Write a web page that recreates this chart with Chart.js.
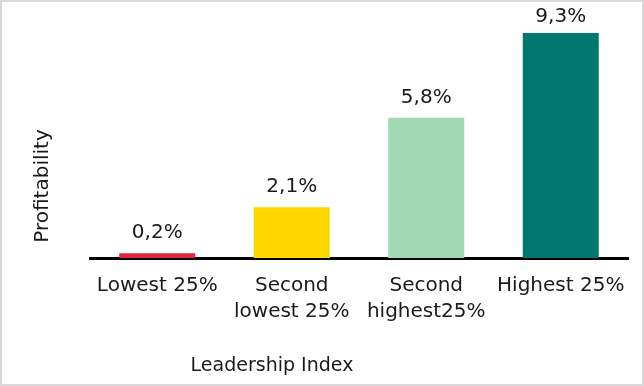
<!DOCTYPE html>
<html>
<head>
<meta charset="utf-8">
<script src="https://cdn.jsdelivr.net/npm/chart.js@4"></script>
<style>
  body { margin: 0; background: #fff; }
  #wrap { position: relative; width: 644px; height: 386px; }
  #wrap::after {
    content: ""; position: absolute; left: 0; top: 0; right: 0; bottom: 0;
    border: 2px solid #d9d9d9; pointer-events: none;
  }
  canvas { display: block; }
</style>
</head>
<body>
<div id="wrap"><canvas id="chart" width="644" height="386"></canvas></div>
<script>
// ==========================
// DATA
// ==========================

const categories = [
    ["Lowest 25%"],
    ["Second", "lowest 25%"],
    ["Second", "highest25%"],
    ["Highest 25%"]
];

const profitability = [0.2, 2.1, 5.8, 9.3];

const valueLabels = ["0,2%", "2,1%", "5,8%", "9,3%"];

const barColors = ["#e5243b", "#ffd700", "#a1dab4", "#00786f"];

const yTitle = "Profitability";
const xTitle = "Leadership Index";

const FONT = "'DejaVu Sans', sans-serif";

// ==========================
// LABELS + TITLES PLUGIN
// ==========================

const labelsPlugin = {
    id: "labels",
    afterDatasetsDraw(chart) {
        const ctx = chart.ctx;
        const meta = chart.getDatasetMeta(0);
        ctx.save();
        ctx.fillStyle = "#1a1a1a";
        ctx.font = "20px " + FONT;
        ctx.textAlign = "center";
        ctx.textBaseline = "bottom";
        meta.data.forEach((bar, i) => {
            let y = Math.max(bar.y - 10, 27);
            ctx.fillText(valueLabels[i], bar.x, y);
        });

        // axis titles
        ctx.font = "19px " + FONT;
        ctx.fillText(xTitle, 272, 376);
        ctx.font = "20px " + FONT;
        ctx.translate(53, 186);
        ctx.rotate(-Math.PI / 2);
        ctx.fillText(yTitle, 0, 0);
        ctx.restore();
    }
};

// ==========================
// BAR CHART
// ==========================

new Chart(document.getElementById("chart"), {
    type: "bar",
    data: {
        labels: categories,
        datasets: [{
            data: profitability,
            backgroundColor: barColors,
            categoryPercentage: 1,
            barPercentage: 0.565
        }]
    },
    options: {
        responsive: false,
        animation: false,
        layout: {
            padding: { left: 90, right: 16, top: 16, bottom: 46 }
        },
        plugins: {
            legend: { display: false },
            tooltip: { enabled: false }
        },
        scales: {
            y: {
                display: false,
                min: 0,
                max: 10
            },
            x: {
                grid: { display: false, drawTicks: false },
                border: { color: "#000", width: 3 },
                ticks: {
                    padding: 15,
                    color: "#1a1a1a",
                    font: { family: FONT, size: 20, lineHeight: 1.3 },
                    maxRotation: 0
                }
            }
        }
    },
    plugins: [labelsPlugin]
});
</script>
</body>
</html>
